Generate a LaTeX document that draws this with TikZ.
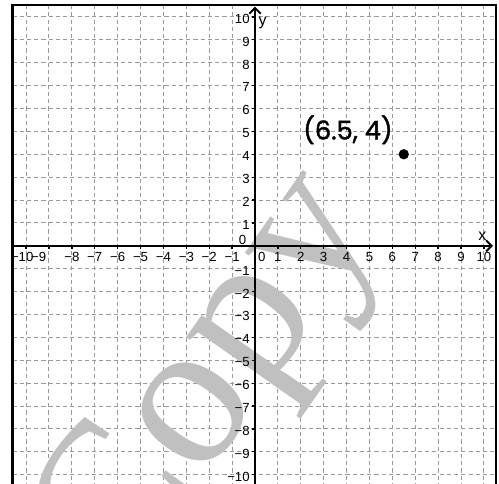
\documentclass[tikz,border=0pt]{standalone}
\usepackage{fontspec}
\setmainfont{Liberation Sans}
\newfontfamily\wmfont{Liberation Serif}
\newfontfamily\ptfont{Poppins}[FakeBold=1.4]
\usepackage{xcolor}
\usepackage{tikz}
\usetikzlibrary{arrows.meta, positioning}
\definecolor{GridGray}{HTML}{9A9A9A}
\definecolor{WmGray}{HTML}{C0C0C0}
\newcommand{\tnum}[1]{\ifnum#1<0 −\number-#1\relax\else#1\fi}

\begin{document}
\begin{tikzpicture}[x=0.5cm, y=0.5cm,
  gridline/.style={draw=GridGray, line width=0.6pt, dash pattern=on 2.6pt off 1.9pt},
  frame/.style={draw=black, line width=1.5pt},
  axis/.style={draw=black, line width=1.2pt, -{Straight Barb[length=3.5pt, width=7pt]}},
  tickmark/.style={draw=black, line width=0.8pt},
  num/.style={font=\fontsize{8.2}{9}\selectfont, inner sep=0pt},
  axlabel/.style={font=\fontsize{10}{11}\selectfont, inner sep=0pt},
  watermark/.style={font=\wmfont\fontsize{130}{130}\selectfont, text=WmGray,
    rotate=55, anchor=base, inner sep=0pt},
  ptdot/.style={circle, fill=black, inner sep=0pt, minimum size=6.4pt},
  ptlabel/.style={font=\ptfont\fontsize{16}{18}\selectfont, inner sep=0pt}
]

\useasboundingbox (-11.14,-10.39) rectangle (10.66,10.74);
\clip (-11.14,-10.39) rectangle (10.66,10.74);

% Grid
\foreach \i in {-10,...,-1,1,2,...,10} {
  \draw[gridline] (\i,10.52) -- (\i,-10.6);
  \draw[gridline] (-10.6,\i) -- (10.52,\i);
}

% Frame
\draw[frame] (-10.6,-11) |- (10.52,10.52) -- (10.52,-11);

% Watermark
\node[watermark] (wm) at (-0.1,-7.2) {Copy};

% Axes
\coordinate (xs) at (-10.6,0);
\coordinate (xe) at (10.4,0);
\coordinate (ys) at (0,-10.6);
\coordinate (ye) at (0,10.45);
\draw[axis] (xs) -- (xe);
\draw[axis] (ys) -- (ye);

% Ticks
\foreach \i in {-10,...,-1,1,2,...,10} {
  \draw[tickmark] (\i,0) -- (\i,-0.14);
  \draw[tickmark] (0,\i) -- (-0.14,\i);
}

% Tick labels
\foreach \i in {-8,...,-1,1,2,...,10}
  \node[num] (xl\i) at (\i,-0.5) {\tnum{\i}};
\node[num] (xl-10) at (-10.17,-0.5) {\tnum{-10}};
\node[num] (xl-9) at (-9.45,-0.5) {\tnum{-9}};
\node[num] (xl0) at (0.3,-0.5) {0};
\foreach \i in {-10,...,-1,1,2,...,10}
  \node[num, anchor=east] (yl\i) at (-0.22,{\i-0.08}) {\tnum{\i}};
\node[num, anchor=east] (yl0) at (-0.37,0.24) {0};

\node[axlabel] (xname) at (9.93,0.44) {x};
\node[axlabel] (yname) at (0.33,9.74) {y};

% Point
\node[ptdot] (P) at (6.5,4) {};
\node[ptlabel] (Plabel) at (4.06,5.07) {(6.5, 4)};

\end{tikzpicture}
\end{document}
